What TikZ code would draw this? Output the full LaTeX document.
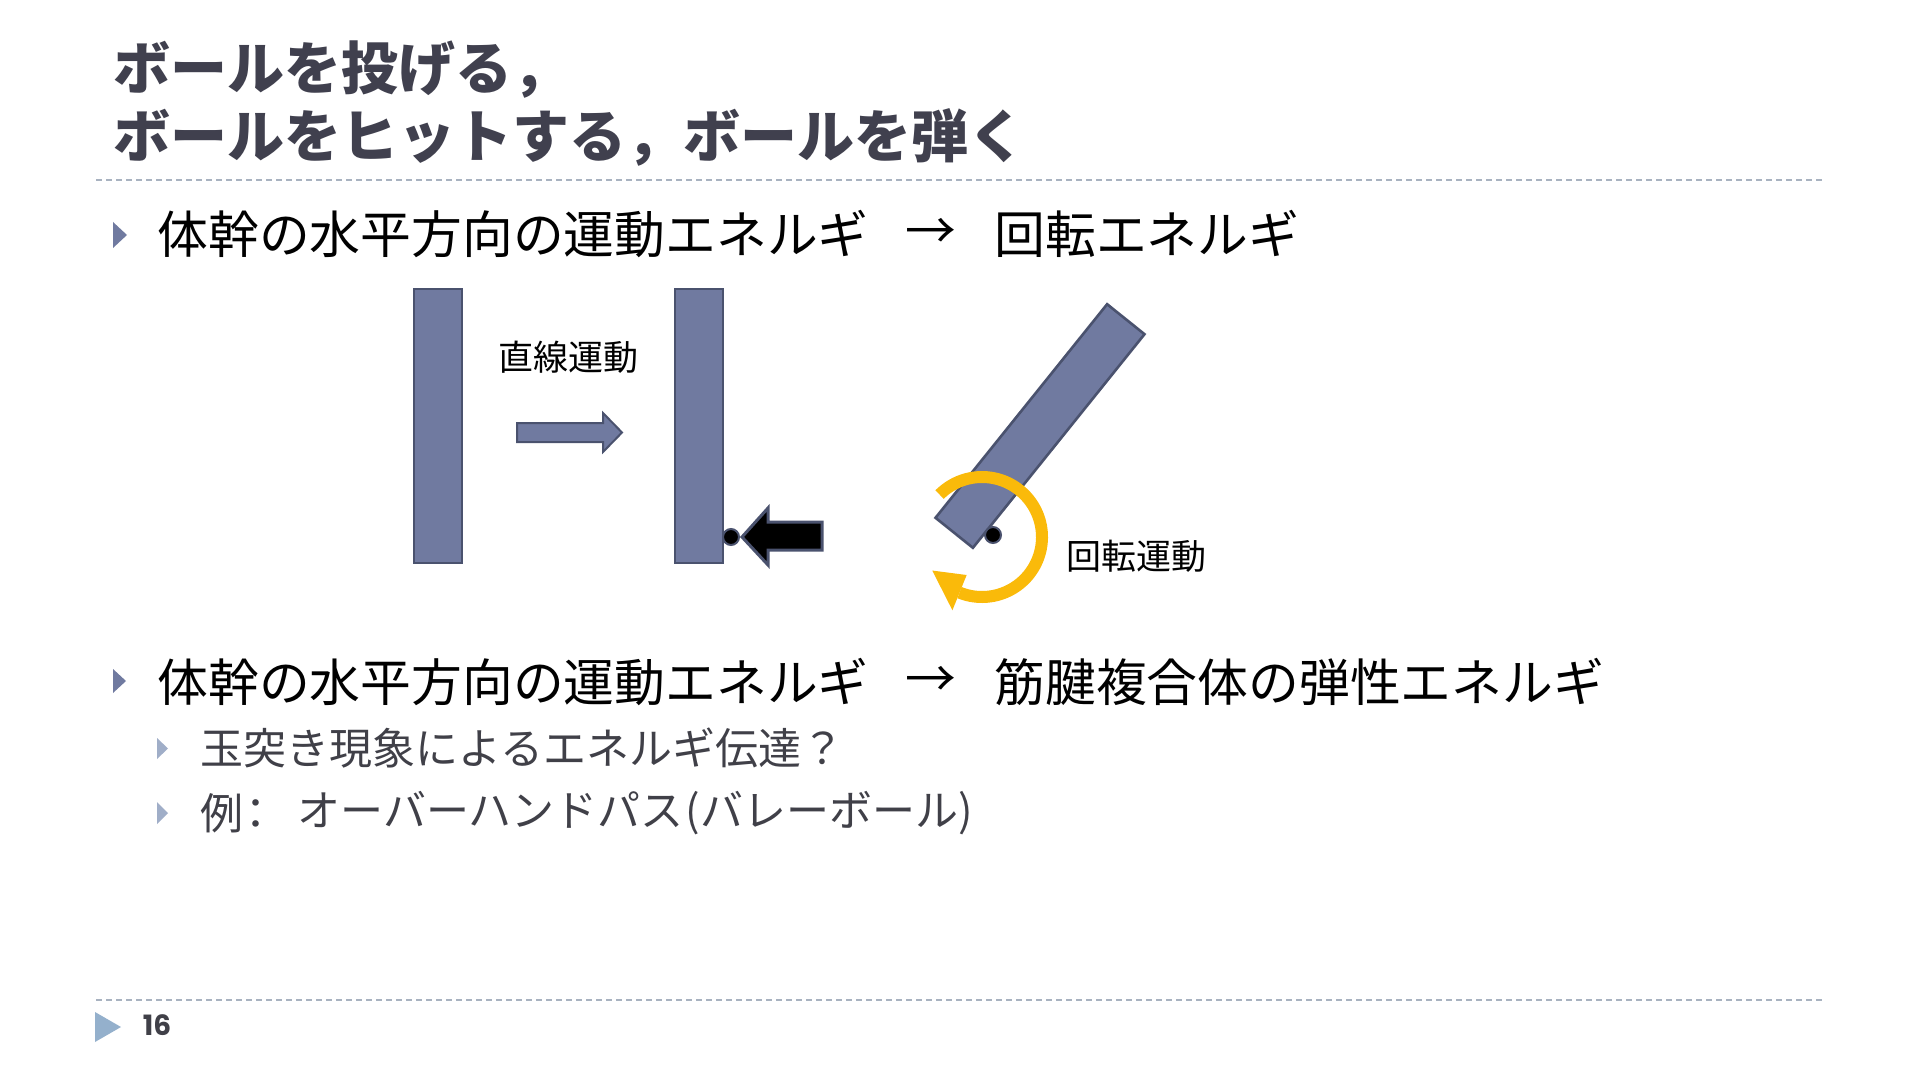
\documentclass[tikz,border=0pt]{standalone}
\usepackage{fontspec}
\setmainfont{Noto Sans CJK JP}
\newfontfamily\jp{Noto Sans CJK JP}
\newfontfamily\numfont{Poppins}
\usetikzlibrary{arrows.meta}
\definecolor{slate}{RGB}{112,122,160}
\definecolor{slateedge}{RGB}{74,82,110}
\definecolor{titlegray}{RGB}{64,64,78}
\definecolor{subgray}{RGB}{64,64,72}
\definecolor{dashgray}{RGB}{168,178,192}
\definecolor{gold}{RGB}{250,186,10}
\definecolor{lightslate}{RGB}{160,174,200}
\definecolor{footblue}{RGB}{148,176,204}
\tikzset{
  titletext/.style={anchor=west, inner sep=0pt, text=titlegray, font=\jp\bfseries\fontsize{28.5}{34}\selectfont},
  mainline/.style={anchor=west, inner sep=0pt, text=black, font=\jp\fontsize{25.4}{30}\selectfont},
  arrowtext/.style={inner sep=0pt, text=black, font=\jp\fontsize{25.4}{30}\selectfont},
  subline/.style={anchor=west, inner sep=0pt, text=subgray, font=\jp\fontsize{21.5}{26}\selectfont},
  diaglabel/.style={inner sep=0pt, text=black, font=\jp\fontsize{17.5}{21}\selectfont},
  bar/.style={draw=slateedge, fill=slate, line width=1.3pt, minimum width=24pt, minimum height=137pt, inner sep=0pt, outer sep=0pt},
  dotnode/.style={circle, draw=slateedge, fill=black, line width=1pt, minimum size=8pt, inner sep=0pt},
  sepline/.style={draw=dashgray, line width=1pt, dash pattern=on 3pt off 2pt},
  blockarrow/.style={line width=1pt, line join=miter},
}
\begin{document}
\begin{tikzpicture}[x=0.5pt,y=-0.5pt]
\useasboundingbox (0,0) rectangle (1920,1080);
\fill[white] (0,0) rectangle (1920,1080);

% title
\node[titletext] (t1) at (113,70) {ボールを投げる，};
\node[titletext] (t2) at (113,137) {ボールをヒットする，ボールを弾く};

% separator lines
\coordinate (sl1) at (96,180);
\coordinate (sr1) at (1824,180);
\draw[sepline] (sl1) -- (sr1);
\coordinate (sl2) at (96,1000);
\coordinate (sr2) at (1824,1000);
\draw[sepline] (sl2) -- (sr2);

% bullet 1
\fill[slate] (113,222) -- (127,235) -- (113,248) -- cycle;
\node[mainline] (b1a) at (157,234) {体幹の水平方向の運動エネルギ};
\node[arrowtext] (b1arr) at (931,234) {→};
\node[mainline] (b1b) at (994,234) {回転エネルギ};

% diagram
\node[bar] (bar1) at (438,426) {};
\node[bar] (bar2) at (699,426) {};
\node[diaglabel] (lin) at (568,357) {直線運動};
\filldraw[blockarrow, fill=slate, draw=slateedge] (517,423) -- (603,423) -- (603,413) -- (622,432.5) -- (603,452) -- (603,442) -- (517,442) -- cycle;
\filldraw[blockarrow, fill=black, draw=slateedge, line width=1.5pt] (822,522) -- (768,522) -- (768,508) -- (742,537) -- (768,565) -- (768,550) -- (822,550) -- cycle;
\node[dotnode] (d1) at (731,537) {};

% rotated bar
\filldraw[draw=slateedge, fill=slate, line width=1.3pt, line join=miter] (935.5,517.8) -- (1107.1,304.2) -- (1144.5,334.2) -- (972.9,547.8) -- cycle;
\node[dotnode] (d2) at (993,535) {};
\draw[gold, line width=6pt] plot[domain=-135:112, samples=90] ({982+60*cos(\x)},{537+60*sin(\x)});
\fill[gold] ({982+79*cos(112)},{537+79*sin(112)}) -- ({982+41*cos(112)},{537+41*sin(112)}) -- ({982+60*cos(146)},{537+60*sin(146)}) -- cycle;
\node[diaglabel] (rot) at (1136,556) {回転運動};

% bullet 2
\fill[slate] (113,669) -- (126,681) -- (113,693) -- cycle;
\node[mainline] (b2a) at (157,682) {体幹の水平方向の運動エネルギ};
\node[arrowtext] (b2arr) at (931,682) {→};
\node[mainline] (b2b) at (994,682) {筋腱複合体の弾性エネルギ};

% sub bullets
\fill[lightslate] (157,738) -- (168,748.5) -- (157,759) -- cycle;
\node[subline] (s1) at (200,748) {玉突き現象によるエネルギ伝達？};
\fill[lightslate] (157,802) -- (168,813) -- (157,824) -- cycle;
\node[subline] (s2a) at (200,813) {例\hspace{-0.2em}：};
\node[subline] (s2b) at (297,813) {オーバーハンドパス\hspace{0.06em}(バレーボール)};

% footer
\fill[footblue] (95,1012) -- (121,1027) -- (95,1042) -- cycle;
\node[inner sep=0pt, text=subgray, font=\numfont\bfseries\fontsize{14}{16}\selectfont] (pg) at (157,1025) {16};
\end{tikzpicture}
\end{document}
